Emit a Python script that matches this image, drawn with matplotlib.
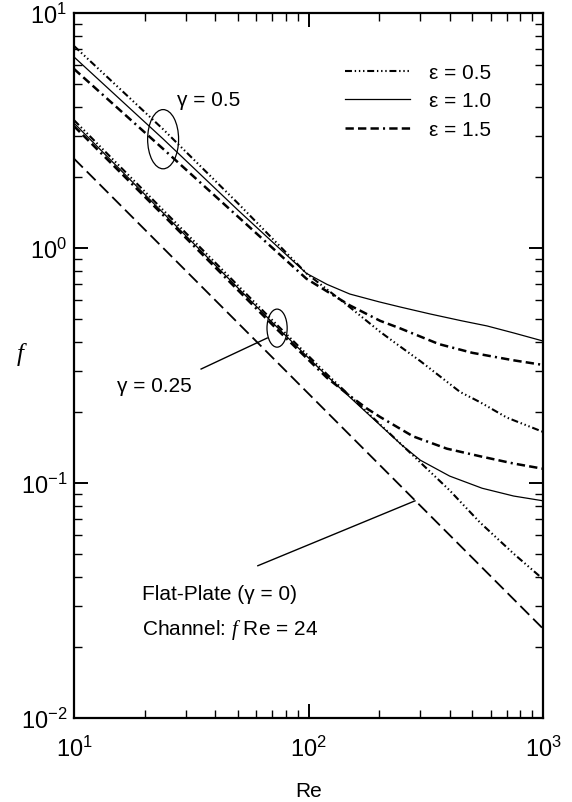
import matplotlib
matplotlib.use('Agg')
import matplotlib.pyplot as plt
from matplotlib.patches import Ellipse

plt.rcParams['font.family'] = ['Liberation Sans', 'DejaVu Sans']
plt.rcParams['mathtext.fontset'] = 'custom'
plt.rcParams['mathtext.rm'] = 'Liberation Sans'
plt.rcParams['mathtext.it'] = 'Liberation Serif:italic'
plt.rcParams['axes.unicode_minus'] = False
plt.rcParams['lines.scale_dashes'] = False

# gamma = 0.5 curves
re_g50_e05 = [10, 24, 50, 98, 150, 202, 238, 300, 443, 538, 700, 1000]
f_g50_e05 = [7.24, 3.2, 1.55, 0.78, 0.56, 0.44, 0.39, 0.33, 0.244, 0.221, 0.19, 0.165]

re_g50_e10 = [10, 24, 50, 98, 120, 150, 200, 246, 330, 450, 577, 750, 1000]
f_g50_e10 = [6.5, 2.91, 1.45, 0.78, 0.70, 0.637, 0.59, 0.561, 0.524, 0.49, 0.466, 0.435, 0.402]

re_g50_e15 = [10, 24, 50, 98, 150, 202, 246, 360, 500, 745, 1000]
f_g50_e15 = [5.78, 2.64, 1.36, 0.74, 0.57, 0.49, 0.455, 0.39, 0.358, 0.333, 0.318]

# gamma = 0.25 curves
re_g25_e05 = [10, 24, 73.5, 120, 178, 279, 400, 538, 750, 1000]
f_g25_e05 = [3.5, 1.45, 0.47, 0.29, 0.2, 0.131, 0.093, 0.068, 0.05, 0.039]

re_g25_e10 = [10, 24, 73.5, 120, 150, 200, 250, 300, 400, 550, 750, 1000]
f_g25_e10 = [3.4, 1.41, 0.46, 0.285, 0.232, 0.178, 0.145, 0.125, 0.107, 0.095, 0.088, 0.084]

re_g25_e15 = [10, 24, 73.5, 120, 150, 178, 202, 279, 389, 538, 750, 1000]
f_g25_e15 = [3.3, 1.38, 0.45, 0.28, 0.235, 0.207, 0.191, 0.158, 0.14, 0.13, 0.121, 0.115]

# flat plate / channel, f Re = 24
re_flat = [10, 100, 1000]
f_flat = [2.4, 0.24, 0.024]

eps_labels = ['ε = 0.5', 'ε = 1.0', 'ε = 1.5']

dash_e05 = (5, 2, 1, 2, 1, 2, 1, 2)
dash_e15 = (6, 3, 6, 3, 6, 3, 1.5, 3)

fig = plt.figure(figsize=(5.72, 8.03), dpi=100)
ax = fig.add_axes([74 / 572, 1 - 719 / 803, 469 / 572, 705 / 803])

l1, = ax.plot(re_g50_e05, f_g50_e05, color='black', lw=1.5, dashes=dash_e05)
l2, = ax.plot(re_g50_e10, f_g50_e10, color='black', lw=0.9)
l3, = ax.plot(re_g50_e15, f_g50_e15, color='black', lw=1.8, dashes=dash_e15)
ax.plot(re_g25_e05, f_g25_e05, color='black', lw=1.5, dashes=dash_e05)
ax.plot(re_g25_e10, f_g25_e10, color='black', lw=0.9)
ax.plot(re_g25_e15, f_g25_e15, color='black', lw=1.8, dashes=dash_e15)
ax.plot(re_flat, f_flat, color='black', lw=1.3, dashes=(9, 4))

ax.set_xscale('log')
ax.set_yscale('log')
ax.set_xlim(10, 1000)
ax.set_ylim(0.01, 10)

for side in ax.spines.values():
    side.set_linewidth(1.6)
ax.tick_params(which='both', direction='in', top=True, right=True)
ax.tick_params(which='major', length=10, width=1.4, labelsize=17)
ax.tick_params(which='minor', length=6, width=1.0)
ax.tick_params(axis='x', which='major', pad=13)
ax.tick_params(axis='y', which='major', pad=5)

ax.set_xlabel('Re', fontsize=15)
ax.xaxis.set_label_coords(0.5, -0.09)
ax.set_ylabel('f', fontsize=18, family='Liberation Serif', style='italic', rotation=0)
ax.yaxis.set_label_coords(-0.115, 0.5)

leg = ax.legend([l1, l2, l3], eps_labels, loc='upper left', bbox_to_anchor=(0.578, 0.929),
                frameon=False, fontsize=15, handlelength=3.1, handletextpad=0.95,
                labelspacing=0.45, borderpad=0, borderaxespad=0)

# annotations
ax.add_patch(Ellipse((0.190, 0.821), 0.066, 0.084, transform=ax.transAxes,
                     fill=False, lw=0.9, color='black'))
ax.text(0.220, 0.878, 'γ = 0.5', transform=ax.transAxes, fontsize=15, va='center')

ax.add_patch(Ellipse((0.433, 0.553), 0.043, 0.054, transform=ax.transAxes,
                     fill=False, lw=0.9, color='black'))
ax.plot([0.412, 0.271], [0.539, 0.495], transform=ax.transAxes, color='black', lw=1.0)
ax.text(0.092, 0.471, 'γ = 0.25', transform=ax.transAxes, fontsize=15, va='center')

ax.plot([0.727, 0.392], [0.308, 0.216], transform=ax.transAxes, color='black', lw=1.0)
ax.text(0.145, 0.176, 'Flat-Plate (γ = 0)', transform=ax.transAxes, fontsize=15, va='center')
ax.text(0.145, 0.126, r'Channel: $f$ Re = 24', transform=ax.transAxes, fontsize=15, va='center')

fig.savefig('out.png', dpi=100)
